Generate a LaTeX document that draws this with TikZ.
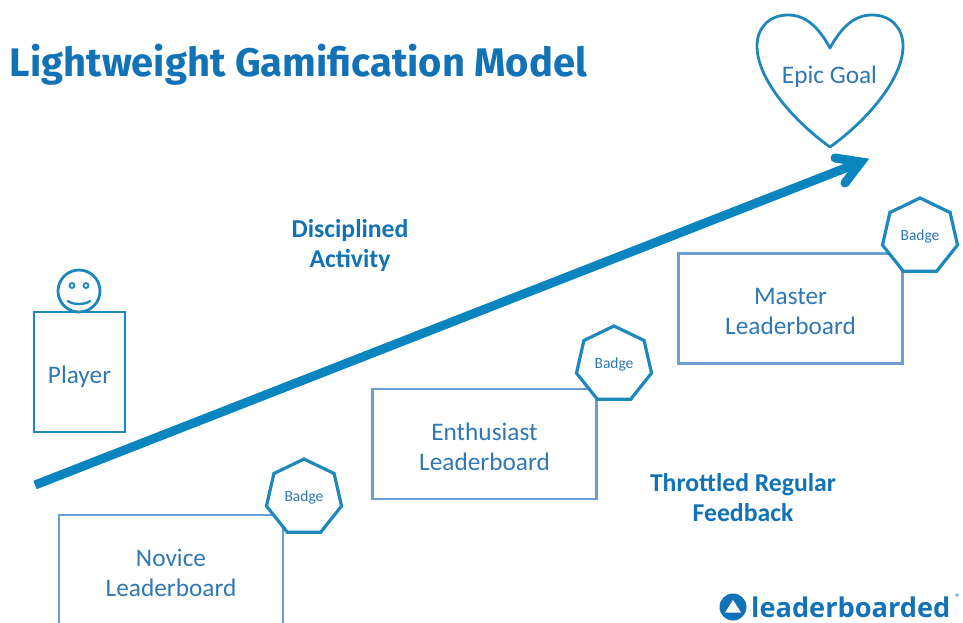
\documentclass[tikz,border=0pt]{standalone}
\usepackage{fontspec}
\setmainfont{Carlito}
\newfontfamily\titlefont{Fira Sans}
\newfontfamily\logofont{Open Sans}
\usetikzlibrary{shapes.geometric}
\definecolor{titleblue}{HTML}{1272B6}
\definecolor{lineblue}{HTML}{1E88BC}
\definecolor{textblue}{HTML}{2F78B5}
\definecolor{boardblue}{HTML}{6B9FD2}
\definecolor{arrowblue}{HTML}{0A85C0}
\newcommand{\tdown}[2]{\raisebox{-#1pt}[\height][\depth]{#2}}
\tikzset{
  x=1pt,y=-1pt,
  board/.style={draw=boardblue,line width=2.8pt,minimum width=224pt,minimum height=110pt,inner sep=0pt,outer sep=0pt,align=center,text=textblue,font=\fontsize{25.3}{30}\selectfont},
  badge/.style={draw=lineblue,fill=white,line width=3.2pt,regular polygon,regular polygon sides=7,minimum size=77pt,inner sep=0pt,outer sep=0pt,text=textblue,font=\fontsize{15.5}{17}\selectfont},
  lead/.style={text=titleblue,align=center,inner sep=0pt,font=\fontsize{25.7}{30}\selectfont\bfseries},
  thin line/.style={draw=lineblue,line width=2.8pt},
  bigarrow/.style={draw=arrowblue,line width=9pt}
}
\begin{document}
\begin{tikzpicture}
\useasboundingbox (0,0) rectangle (963,622);
\node[anchor=center,inner sep=0pt,text=titleblue,font=\fontsize{39.9}{42}\selectfont\titlefont\bfseries] (title) at (298.5,65) {Lightweight Gamification Model};
% heart
\draw[thin line,line join=round] (830,48) .. controls (818,26) and (805,15) .. (788,15)
  .. controls (769,15) and (757,28) .. (757,46)
  .. controls (757,80) and (795,122) .. (830,147)
  .. controls (865,122) and (903,80) .. (903,46)
  .. controls (903,28) and (891,15) .. (872,15)
  .. controls (855,15) and (842,26) .. (830,48) -- cycle;
\node[text=textblue,inner sep=0pt,font=\fontsize{25.3}{28}\selectfont] (goal) at (829.5,77) {Epic Goal};
% arrow
\coordinate (astart) at (35,485);
\coordinate (atip) at (861,162);
\coordinate (abarbu) at (835,158);
\coordinate (abarbl) at (845,183);
\draw[bigarrow] (astart) -- (atip);
\draw[bigarrow,line cap=round,miter limit=10] (abarbu) -- (atip) -- (abarbl);
% player
\node[draw=lineblue,line width=2.8pt,minimum width=91pt,minimum height=120pt,inner sep=0pt,outer sep=0pt,text=textblue,font=\fontsize{25.3}{28}\selectfont] (player) at (79.5,372) {\tdown{4.5}{Player}};
\node[draw=lineblue,line width=2.8pt,circle,minimum size=42pt,inner sep=0pt,outer sep=0pt] (face) at (79,291) {};
\draw[draw=lineblue,line width=1.8pt] (72,285.5) circle (2.5);
\draw[draw=lineblue,line width=1.8pt] (86,285.5) circle (2.5);
\draw[draw=lineblue,line width=2.4pt,line cap=round] (68,301) .. controls (73,305) and (85,305) .. (90,301);
% labels
\node[lead] (disc) at (350,245.5) {Disciplined\\Activity};
\node[lead] (feed) at (743,498) {Throttled Regular\\Feedback};
% boards
\node[board] (novice) at (171,570) {\tdown{2.5}{Novice}\\\tdown{2.5}{Leaderboard}};
\node[board] (enth) at (484.5,444) {\tdown{2.5}{Enthusiast}\\\tdown{2.5}{Leaderboard}};
\node[board] (master) at (790.5,308.5) {\tdown{3}{Master}\\\tdown{3}{Leaderboard}};
\node[badge] (b1) at (304,497.5) {Badge};
\node[badge] (b2) at (614,364.5) {Badge};
\node[badge] (b3) at (920,236.5) {Badge};
% logo
\node[circle,fill=titleblue,minimum size=27pt,inner sep=0pt] (logoc) at (733,607) {};
\fill[white] (733,600) -- (741,612.5) -- (725,612.5) -- cycle;
\node[anchor=west,inner sep=0pt,text=titleblue,font=\fontsize{27.2}{30}\selectfont\logofont\bfseries] (logo) at (751,607) {leaderboarded};
\node[anchor=center,inner sep=0pt,text=titleblue,font=\fontsize{11}{12}\selectfont] (reg) at (958,598) {®};
\end{tikzpicture}
\end{document}
